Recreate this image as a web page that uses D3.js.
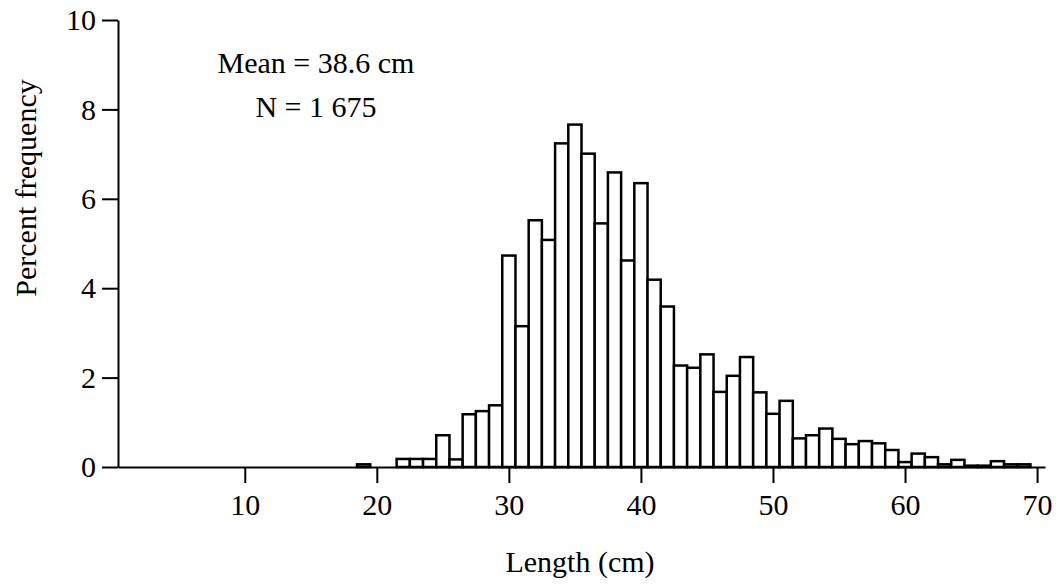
<!DOCTYPE html>
<html lang="en">
<head>
    <meta charset="UTF-8">
    <title>Length frequency</title>
    <script src="https://d3js.org/d3.v7.min.js"></script>
    <style>
        body { margin: 0; background: #fff; }
        svg { font-family: "Liberation Serif", "Times New Roman", serif; }
        .axis path, .axis line { stroke: #000; stroke-width: 2; }
        .axis text { font-size: 30px; fill: #000; font-family: "Liberation Serif", serif; }
        .bar { fill: #fff; stroke: #000; stroke-width: 2.5; }
        .label { font-size: 30px; fill: #000; }
    </style>
</head>
<body>
    <svg width="1061" height="584"></svg>
    <script>
        // length classes (cm) and percent frequency
        const lengths = [19, 20, 21, 22, 23, 24, 25, 26, 27, 28, 29,
            30, 31, 32, 33, 34, 35, 36, 37, 38, 39, 40,
            41, 42, 43, 44, 45, 46, 47, 48, 49, 50, 51,
            52, 53, 54, 55, 56, 57, 58, 59, 60, 61, 62, 63, 64, 65, 66, 67, 68, 69];
        const percent = [0.06, 0, 0, 0.18, 0.18, 0.18, 0.71, 0.17, 1.18, 1.25, 1.38,
            4.73, 3.15, 5.52, 5.08, 7.24, 7.66, 7.01, 5.45, 6.59, 4.62, 6.35,
            4.19, 3.59, 2.27, 2.22, 2.52, 1.68, 2.04, 2.46, 1.67, 1.19, 1.48,
            0.64, 0.71, 0.86, 0.63, 0.51, 0.58, 0.53, 0.38, 0.11, 0.30, 0.22, 0.06, 0.16, 0.03, 0.03, 0.13, 0.06, 0.06];
        const xTicks = [10, 20, 30, 40, 50, 60, 70];
        const yTicks = [0, 2, 4, 6, 8, 10];
        const notes = ["Mean = 38.6 cm", "N = 1 675"];

        const data = lengths.map((l, i) => ({ len: l, pct: percent[i] })).filter(d => d.pct > 0);

        const svg = d3.select("svg");

        const x = d3.scaleLinear().domain([0.4, 70.6]).range([118, 1045]);
        const y = d3.scaleLinear().domain([0, 10]).range([467, 20]);

        svg.selectAll(".bar")
            .data(data)
            .enter().append("rect")
            .attr("class", "bar")
            .attr("x", d => x(d.len - 0.5))
            .attr("y", d => y(d.pct))
            .attr("width", d => x(d.len + 0.5) - x(d.len - 0.5))
            .attr("height", d => y(0) - y(d.pct));

        svg.append("g")
            .attr("class", "axis")
            .attr("transform", `translate(0,${y(0)})`)
            .call(d3.axisBottom(x).tickValues(xTicks).tickSize(16).tickSizeOuter(0).tickPadding(11));

        svg.append("g")
            .attr("class", "axis")
            .attr("transform", `translate(${x(0.4)},0)`)
            .call(d3.axisLeft(y).tickValues(yTicks).tickSize(16).tickSizeOuter(0).tickPadding(6));

        svg.append("text")
            .attr("class", "label")
            .attr("text-anchor", "middle")
            .attr("x", 580)
            .attr("y", 572)
            .text("Length (cm)");

        svg.append("text")
            .attr("class", "label")
            .attr("text-anchor", "middle")
            .attr("transform", "translate(36,188) rotate(-90)")
            .text("Percent frequency");

        svg.selectAll(".note")
            .data(notes)
            .enter().append("text")
            .attr("class", "label note")
            .attr("text-anchor", "middle")
            .attr("x", 316)
            .attr("y", (d, i) => 73 + i * 44)
            .text(d => d);
    </script>
</body>
</html>
